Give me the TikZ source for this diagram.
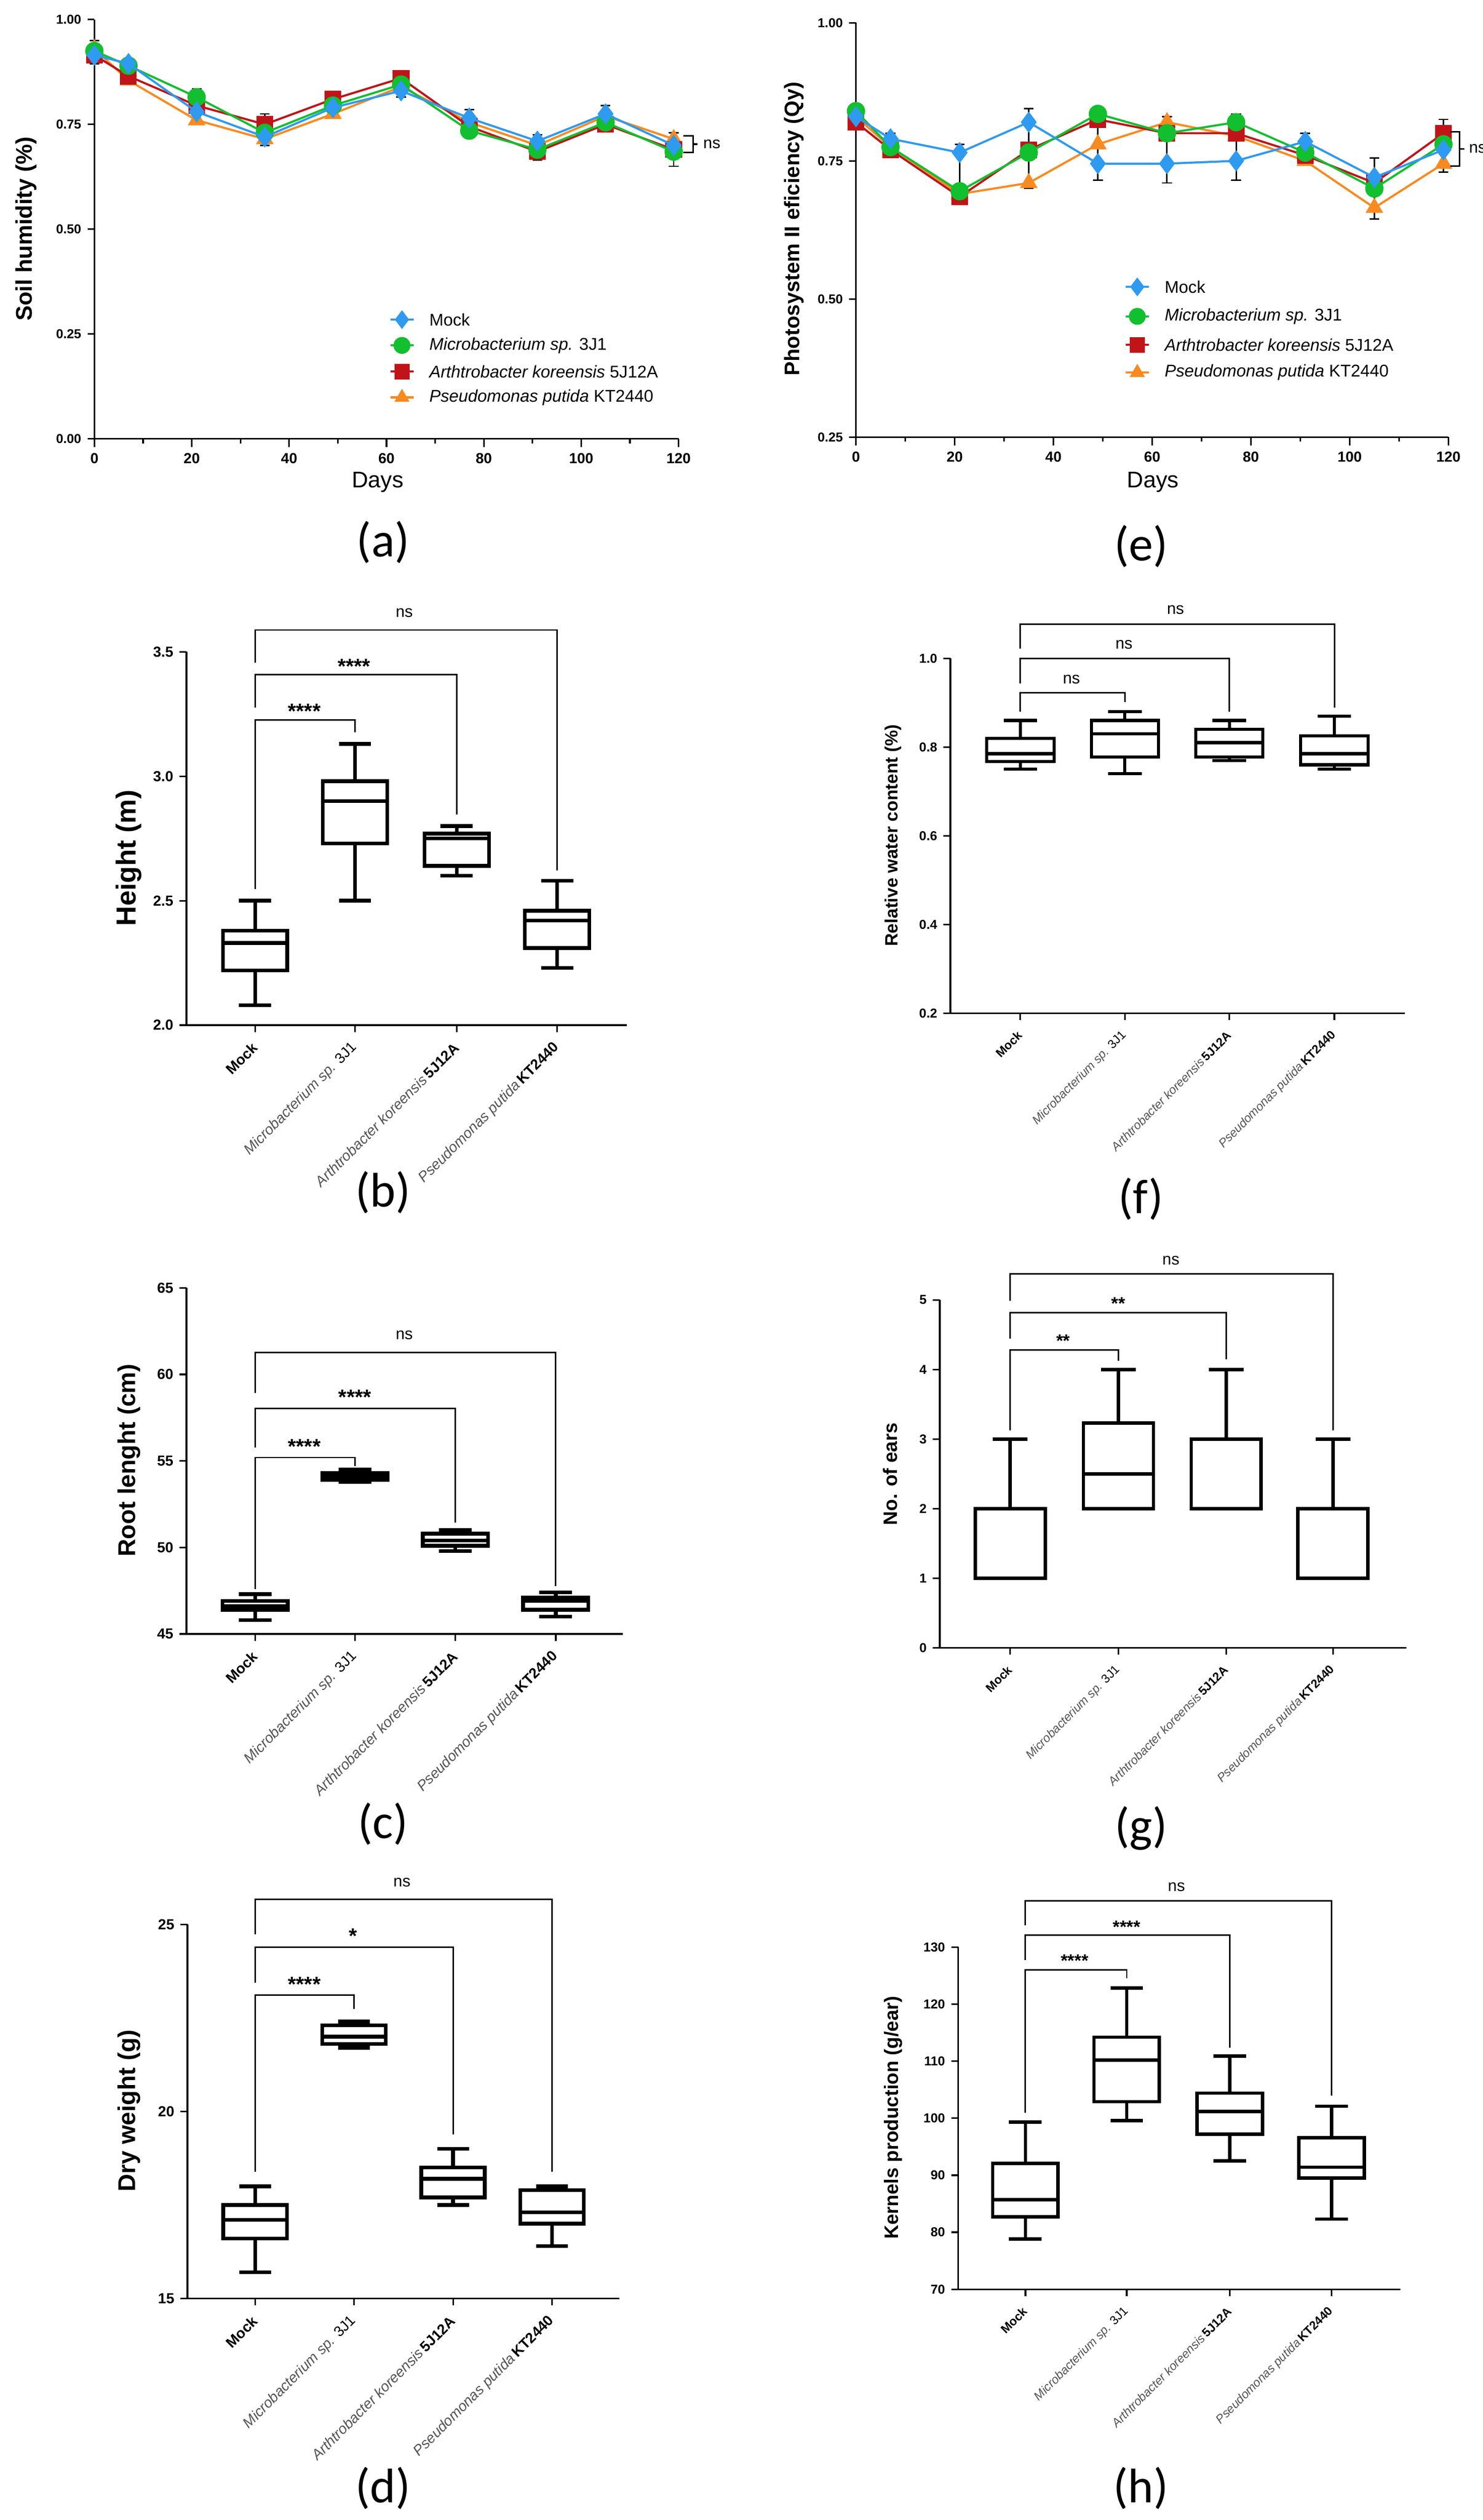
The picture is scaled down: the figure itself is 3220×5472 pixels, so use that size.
\documentclass[tikz,border=0pt]{standalone}
\usepackage{fontspec}
\setmainfont{Liberation Sans}
\newfontfamily\calfont{Carlito}
\usetikzlibrary{plotmarks}
\definecolor{cmock}{HTML}{2E9AF0}
\definecolor{cmic}{HTML}{12BF2E}
\definecolor{carth}{HTML}{C01418}
\definecolor{cpse}{HTML}{F98A1F}
\definecolor{gtxt}{HTML}{555555}
\newcommand\bxp[7]{% cx hw wlo qlo med qhi whi
 \draw (#1,#3)--(#1,#4) (#1,#6)--(#1,#7) (#1-#2*0.5,#3)--(#1+#2*0.5,#3) (#1-#2*0.5,#7)--(#1+#2*0.5,#7);
 \draw (#1-#2,#4) rectangle (#1+#2,#6);
 \draw (#1-#2,#5)--(#1+#2,#5);}
\newcommand\catlabels[6]{% x1..x4, vmin, fontsize
 \begin{scope}[font=\fontsize{#6}{#6}\selectfont]
 \path (#1,#5) ++(0.08cm,-0.35cm) node[rotate=45,anchor=east]{\bfseries Mock};
 \path (#2,#5) ++(0.08cm,-0.35cm) node[rotate=45,anchor=east]{\textcolor{gtxt}{\itshape Microbacterium sp.} 3J1};
 \path (#3,#5) ++(0.08cm,-0.35cm) node[rotate=45,anchor=east]{\textcolor{gtxt}{\itshape Arthtrobacter koreensis}\,\bfseries 5J12A};
 \path (#4,#5) ++(0.08cm,-0.35cm) node[rotate=45,anchor=east]{\textcolor{gtxt}{\itshape Pseudomonas putida}\,\bfseries KT2440};
 \foreach \c in {#1,#2,#3,#4}{\draw[line width=1pt] (\c,#5)--++(0,-0.15cm);}
 \end{scope}}
\tikzset{
 plab/.style={font=\calfont\fontsize{30}{30}\selectfont},
 sig/.style={font=\fontsize{13}{13}\selectfont\bfseries},
 nsl/.style={font=\fontsize{10}{10}\selectfont},
 brk/.style={line width=0.9pt},
 tk/.style={font=\fontsize{9}{9}\selectfont\bfseries},
 ylab/.style={rotate=90,font=\bfseries},
}
\begin{document}
\begin{tikzpicture}[x=0.01cm,y=-0.01cm,line join=miter]
\fill[white] (0,0) rectangle (3220,5472);
\useasboundingbox (0,0) rectangle (3220,5472);

% ===== (a) =====
\begin{scope}[shift={(205,953)},x={(0.10567cm,0)},y={(0,9.1cm)}]
 \draw[line width=1pt] (0,1)--(0,0)--(120,0);
 \foreach \v/\l in {0/0.00,0.25/0.25,0.5/0.50,0.75/0.75,1/1.00}{\draw[line width=1pt] (0,\v)--++(-0.15cm,0) node[left,tk,font=\fontsize{8}{8}\selectfont\bfseries]{\l};}
 \foreach \d in {0,20,...,120}{\draw[line width=1pt] (\d,0)--++(0,-0.18cm) node[below,tk,font=\fontsize{9}{9}\selectfont\bfseries]{\d};}
 \foreach \d in {10,30,...,110}{\draw[line width=1pt] (\d,0)--++(0,-0.1cm);}
 \foreach \d/\a/\b in {0/0.895/0.95,7/0.87/0.905,21/0.75/0.835,35/0.70/0.775,49/0.765/0.825,63/0.815/0.875,77/0.72/0.785,91/0.665/0.725,105/0.735/0.795,119/0.65/0.73}{
  \draw[line width=0.9pt] (\d,\a)--(\d,\b) (\d-1,\a)--(\d+1,\a) (\d-1,\b)--(\d+1,\b);}
 \draw[cpse,line width=1.3pt] plot[mark=triangle*,mark size=5pt] coordinates{(0,.93)(7,.855)(21,.76)(35,.715)(49,.775)(63,.84)(77,.755)(91,.70)(105,.77)(119,.715)};
 \draw[carth,line width=1.3pt] plot[mark=square*,mark size=4.5pt] coordinates{(0,.915)(7,.865)(21,.795)(35,.75)(49,.81)(63,.86)(77,.745)(91,.685)(105,.75)(119,.69)};
 \draw[cmic,line width=1.3pt] plot[mark=*,mark size=5pt] coordinates{(0,.925)(7,.89)(21,.815)(35,.73)(49,.795)(63,.845)(77,.735)(91,.69)(105,.755)(119,.685)};
 \draw[cmock,line width=1.3pt] plot[mark=diamond*,mark size=5.5pt] coordinates{(0,.915)(7,.895)(21,.78)(35,.72)(49,.79)(63,.83)(77,.765)(91,.71)(105,.775)(119,.70)};
\end{scope}
\draw[line width=1pt] (1484,295)--(1505,295)--(1505,331)--(1484,331) (1505,313)--(1515,313);
\node[anchor=west,font=\fontsize{10}{10}\selectfont] at (1515,313) {ns};
\node[font=\fontsize{14}{14}\selectfont] at (820,1047) {Days};
\node[ylab,font=\fontsize{14}{14}\selectfont\bfseries] at (57,497) {Soil humidity (\%)};
\foreach \y/\c/\m/\s/\t in {694/cmock/diamond*/5.5/Mock,750/cmic/*/5/{\itshape Microbacterium sp.} 3J1,807/carth/square*/4.5/{\itshape Arthtrobacter koreensis} 5J12A,863/cpse/triangle*/5/{\itshape Pseudomonas putida} KT2440}{
 \draw[\c,line width=1.3pt] (848,\y)--(898,\y);
 \path plot[mark=\m,mark size=\s pt,mark options={\c,fill=\c}] coordinates{(873,\y)};
 \node[anchor=west,font=\fontsize{10.5}{10.5}\selectfont] at (920,\y) {\t};}

% ===== (e) =====
\begin{scope}[shift={(1859,949)},x={(0.10717cm,0)},y={(0,11.987cm)}]
 \begin{scope}[shift={(0,-0.25)}]
 \draw[line width=1pt] (0,1)--(0,0.25)--(120,0.25);
 \foreach \v/\l in {0.25/0.25,0.5/0.50,0.75/0.75,1/1.00}{\draw[line width=1pt] (0,\v)--++(-0.15cm,0) node[left,font=\fontsize{8}{8}\selectfont\bfseries]{\l};}
 \foreach \d in {0,20,...,120}{\draw[line width=1pt] (\d,0.25)--++(0,-0.18cm) node[below,font=\fontsize{9}{9}\selectfont\bfseries]{\d};}
 \foreach \d in {10,30,...,110}{\draw[line width=1pt] (\d,0.25)--++(0,-0.1cm);}
 \foreach \d/\a/\b in {0/0.81/0.85,7/0.765/0.80,21/0.675/0.78,35/0.70/0.845,49/0.715/0.845,63/0.71/0.83,77/0.715/0.835,91/0.745/0.80,105/0.645/0.755,119/0.73/0.825}{
  \draw[line width=0.9pt] (\d,\a)--(\d,\b) (\d-1,\a)--(\d+1,\a) (\d-1,\b)--(\d+1,\b);}
 \draw[cpse,line width=1.3pt] plot[mark=triangle*,mark size=5pt] coordinates{(0,.83)(7,.775)(21,.69)(35,.71)(49,.78)(63,.82)(77,.795)(91,.75)(105,.665)(119,.745)};
 \draw[carth,line width=1.3pt] plot[mark=square*,mark size=4.5pt] coordinates{(0,.82)(7,.77)(21,.685)(35,.77)(49,.825)(63,.80)(77,.80)(91,.76)(105,.71)(119,.80)};
 \draw[cmic,line width=1.3pt] plot[mark=*,mark size=5pt] coordinates{(0,.84)(7,.775)(21,.695)(35,.765)(49,.835)(63,.80)(77,.82)(91,.765)(105,.70)(119,.78)};
 \draw[cmock,line width=1.3pt] plot[mark=diamond*,mark size=5.5pt] coordinates{(0,.83)(7,.79)(21,.765)(35,.82)(49,.745)(63,.745)(77,.75)(91,.785)(105,.72)(119,.77)};
 \end{scope}
\end{scope}
\draw[line width=1pt] (3150,286)--(3170,286)--(3170,361)--(3150,361) (3170,323)--(3180,323);
\node[anchor=west,font=\fontsize{10}{10}\selectfont] at (3178,323) {ns};
\node[font=\fontsize{14}{14}\selectfont] at (2504,1047) {Days};
\node[ylab,font=\fontsize{13}{13}\selectfont\bfseries] at (1724,497) {Photosystem II eficiency (Qy)};
\foreach \y/\c/\m/\s/\t in {623/cmock/diamond*/5.5/Mock,687/cmic/*/5/{\itshape Microbacterium sp.} 3J1,749/carth/square*/4.5/{\itshape Arthtrobacter koreensis} 5J12A,809/cpse/triangle*/5/{\itshape Pseudomonas putida} KT2440}{
 \draw[\c,line width=1.3pt] (2445,\y)--(2495,\y);
 \path plot[mark=\m,mark size=\s pt,mark options={\c,fill=\c}] coordinates{(2470,\y)};
 \node[anchor=west,font=\fontsize{10.5}{10.5}\selectfont] at (2517,\y) {\t};}

% ===== (b) =====
\begin{scope}[shift={(0,2226)},y={(0,5.4cm)}]\begin{scope}[shift={(0,-2)}]
 \draw[line width=1pt] (405,3.5)--(405,2)--(1361,2);
 \foreach \v in {2.0,2.5,3.0,3.5}{\draw[line width=1pt] (405,\v)--++(-0.15cm,0) node[left,tk]{\v};}
 \begin{scope}[line width=2.3pt]
 \bxp{554}{70}{2.08}{2.22}{2.33}{2.38}{2.50}
 \bxp{771}{70}{2.50}{2.73}{2.90}{2.98}{3.13}
 \bxp{992}{70}{2.60}{2.64}{2.75}{2.77}{2.80}
 \bxp{1210}{70}{2.23}{2.31}{2.42}{2.46}{2.58}
 \end{scope}
 \catlabels{554}{771}{992}{1210}{2}{9}
\end{scope}\end{scope}
\draw[brk] (554,1439)--(554,1368)--(1210,1368)--(1210,1890);
\draw[brk] (554,1536)--(554,1465)--(992,1465)--(992,1769);
\draw[brk] (554,1931)--(554,1563)--(771,1563)--(771,1590);
\node[nsl] at (878,1331) {ns};
\node[sig] at (769,1447) {****};
\node[sig] at (661,1544) {****};
\node[ylab,font=\fontsize{17}{17}\selectfont\bfseries] at (280,1863) {Height (m)};

% ===== (c) =====
\begin{scope}[shift={(0,3548)},y={(0,0.3755cm)}]\begin{scope}[shift={(0,-45)}]
 \draw[line width=1pt] (405,65)--(405,45)--(1353,45);
 \foreach \v in {45,50,55,60,65}{\draw[line width=1pt] (405,\v)--++(-0.15cm,0) node[left,tk]{\v};}
 \begin{scope}[line width=2.3pt]
 \bxp{554}{71}{45.8}{46.4}{46.6}{46.9}{47.3}
 \bxp{771}{71}{53.8}{53.9}{54.1}{54.3}{54.5}
 \bxp{989}{71}{49.8}{50.1}{50.4}{50.8}{51.0}
 \bxp{1207}{71}{46.0}{46.4}{46.9}{47.1}{47.4}
 \end{scope}
 \catlabels{554}{771}{989}{1207}{45}{9}
\end{scope}\end{scope}
\draw[brk] (554,3025)--(554,2937)--(1207,2937)--(1207,3444);
\draw[brk] (554,3143)--(554,3058)--(989,3058)--(989,3306);
\draw[brk] (554,3451)--(554,3165)--(771,3165)--(771,3184);
\node[nsl] at (878,2899) {ns};
\node[sig] at (771,3034) {****};
\node[sig] at (661,3141) {****};
\node[ylab,font=\fontsize{15}{15}\selectfont\bfseries] at (280,3171) {Root lenght (cm)};

% ===== (d) =====
\begin{scope}[shift={(0,4991)},y={(0,0.812cm)}]\begin{scope}[shift={(0,-15)}]
 \draw[line width=1pt] (407,25)--(407,15)--(1345,15);
 \foreach \v in {15,20,25}{\draw[line width=1pt] (407,\v)--++(-0.15cm,0) node[left,tk]{\v};}
 \begin{scope}[line width=2.3pt]
 \bxp{554}{69}{15.7}{16.6}{17.1}{17.5}{18.0}
 \bxp{769}{69}{21.7}{21.8}{22.0}{22.3}{22.4}
 \bxp{984}{69}{17.5}{17.7}{18.2}{18.5}{19.0}
 \bxp{1199}{69}{16.4}{17.0}{17.3}{17.9}{18.0}
 \end{scope}
 \catlabels{554}{769}{984}{1199}{15}{9}
\end{scope}\end{scope}
\draw[brk] (554,4200)--(554,4124)--(1199,4124)--(1199,4716);
\draw[brk] (554,4305)--(554,4228)--(984,4228)--(984,4635);
\draw[brk] (554,4716)--(554,4332)--(769,4332)--(769,4362);
\node[nsl] at (873,4087) {ns};
\node[sig] at (767,4204) {*};
\node[sig] at (661,4309) {****};
\node[ylab,font=\fontsize{15}{15}\selectfont\bfseries] at (280,4583) {Dry weight (g)};

% ===== (f) =====
\begin{scope}[shift={(0,2200)},y={(0,9.625cm)}]\begin{scope}[shift={(0,-0.2)}]
 \draw[line width=1pt] (2064,1.0)--(2064,0.2)--(3051,0.2);
 \foreach \v in {0.2,0.4,0.6,0.8,1.0}{\draw[line width=1pt] (2064,\v)--++(-0.15cm,0) node[left,font=\fontsize{8}{8}\selectfont\bfseries]{\v};}
 \begin{scope}[line width=1.9pt]
 \bxp{2216}{73}{0.75}{0.767}{0.785}{0.82}{0.86}
 \bxp{2443}{73}{0.74}{0.778}{0.83}{0.86}{0.88}
 \bxp{2670}{73}{0.77}{0.778}{0.81}{0.84}{0.86}
 \bxp{2898}{73}{0.75}{0.76}{0.785}{0.825}{0.87}
 \end{scope}
 \catlabels{2216}{2443}{2670}{2898}{0.2}{7.5}
\end{scope}\end{scope}
\draw[brk] (2216,1409)--(2216,1355)--(2898,1355)--(2898,1536);
\draw[brk] (2216,1484)--(2216,1430)--(2670,1430)--(2670,1545);
\draw[brk] (2216,1545)--(2216,1504)--(2443,1504)--(2443,1525);
\node[nsl] at (2553,1324) {ns};
\node[nsl] at (2441,1400) {ns};
\node[nsl] at (2327,1475) {ns};
\node[ylab,font=\fontsize{11}{11}\selectfont\bfseries] at (1940,1814) {Relative water content (\%)};

% ===== (g) =====
\begin{scope}[shift={(0,3578)},y={(0,1.51cm)}]
 \draw[line width=1pt] (2041,5)--(2041,0)--(3054,0);
 \foreach \v in {0,1,2,3,4,5}{\draw[line width=1pt] (2041,\v)--++(-0.15cm,0) node[left,font=\fontsize{8}{8}\selectfont\bfseries]{\v};}
 \begin{scope}[line width=2.1pt]
 \bxp{2194}{76}{1}{1}{2}{2}{3}
 \bxp{2429}{76}{2}{2}{2.5}{3.23}{4}
 \bxp{2663}{76}{2}{2}{3}{3}{4}
 \bxp{2895}{76}{1}{1}{2}{2}{3}
 \end{scope}
 \catlabels{2194}{2429}{2663}{2895}{0}{7.5}
\end{scope}
\draw[brk] (2194,2825)--(2194,2766)--(2895,2766)--(2895,3106);
\draw[brk] (2194,2907)--(2194,2850)--(2663,2850)--(2663,2952);
\draw[brk] (2194,3106)--(2194,2931)--(2429,2931)--(2429,2955);
\node[nsl] at (2543,2737) {ns};
\node[sig,font=\fontsize{11}{11}\selectfont\bfseries] at (2429,2830) {**};
\node[sig,font=\fontsize{11}{11}\selectfont\bfseries] at (2309,2911) {**};
\node[ylab,font=\fontsize{12}{12}\selectfont\bfseries] at (1934,3201) {No. of ears};

% ===== (h) =====
\begin{scope}[shift={(0,4971)},y={(0,0.1238cm)}]\begin{scope}[shift={(0,-70)}]
 \draw[line width=1pt] (2081,130)--(2081,70)--(3041,70);
 \foreach \v in {70,80,...,130}{\draw[line width=1pt] (2081,\v)--++(-0.15cm,0) node[left,font=\fontsize{8}{8}\selectfont\bfseries]{\v};}
 \begin{scope}[line width=2.1pt]
 \bxp{2227}{71}{78.8}{82.7}{85.7}{92.1}{99.3}
 \bxp{2447}{71}{99.6}{102.9}{110.2}{114.2}{122.8}
 \bxp{2671}{71}{92.5}{97.2}{101.2}{104.4}{110.9}
 \bxp{2892}{71}{82.3}{89.5}{91.4}{96.6}{102.1}
 \end{scope}
 \catlabels{2227}{2447}{2671}{2892}{70}{7.5}
\end{scope}\end{scope}
\draw[brk] (2227,4181)--(2227,4127)--(2892,4127)--(2892,4551);
\draw[brk] (2227,4256)--(2227,4202)--(2671,4202)--(2671,4446);
\draw[brk] (2227,4588)--(2227,4277)--(2447,4277)--(2447,4296);
\node[nsl] at (2555,4097) {ns};
\node[sig,font=\fontsize{11}{11}\selectfont\bfseries] at (2447,4184) {****};
\node[sig,font=\fontsize{11}{11}\selectfont\bfseries] at (2334,4257) {****};
\node[ylab,font=\fontsize{12}{12}\selectfont\bfseries] at (1940,4598) {Kernels production (g/ear)};

% ===== panel labels =====
\node[plab] (la) at (832,1177) {(a)};
\node[plab] (le) at (2478,1186) {(e)};
\node[plab] (lb) at (832,2589) {(b)};
\node[plab] (lf) at (2478,2603) {(f)};
\node[plab] (lc) at (832,3960) {(c)};
\node[plab] (lg) at (2478,3970) {(g)};
\node[plab] (ld) at (832,5403) {(d)};
\node[plab] (lh) at (2478,5403) {(h)};
\end{tikzpicture}
\end{document}
